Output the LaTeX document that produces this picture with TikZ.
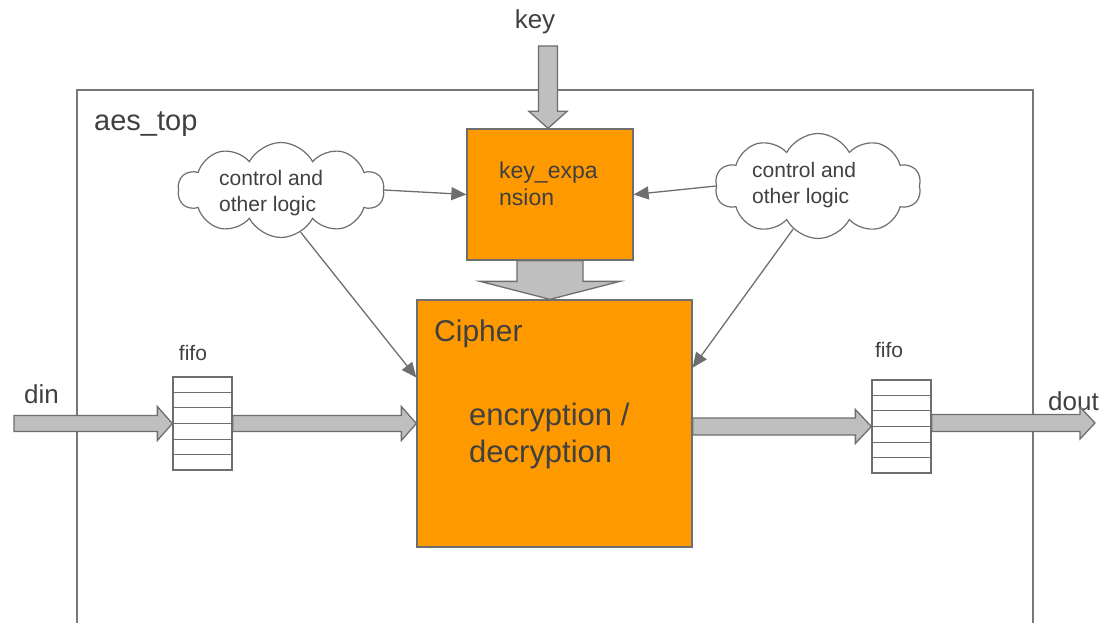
\documentclass[tikz,border=0pt]{standalone}
\usepackage{fontspec}
\setmainfont{Liberation Sans}
\usetikzlibrary{shapes.symbols,calc,arrows.meta}

\definecolor{blockorange}{HTML}{FF9900}
\definecolor{edgegray}{HTML}{6E6E6E}
\definecolor{arrowfill}{HTML}{BFBFBF}
\definecolor{ink}{HTML}{404040}
\definecolor{framegray}{HTML}{787878}

% horizontal block arrow: start, tip, half shaft, half head, head length
\newcommand\blockH[5]{%
  \draw[bigarrow] ($(#1)+(0,-#3)$) -- ($(#2)+(-#5,-#3)$) -- ($(#2)+(-#5,-#4)$)
    -- (#2) -- ($(#2)+(-#5,#4)$) -- ($(#2)+(-#5,#3)$) -- ($(#1)+(0,#3)$) -- cycle;}
% downward block arrow: start, tip, half shaft, half head, head length
\newcommand\blockV[5]{%
  \draw[bigarrow] ($(#1)+(-#3,0)$) -- ($(#2)+(-#3,-#5)$) -- ($(#2)+(-#4,-#5)$)
    -- (#2) -- ($(#2)+(#4,-#5)$) -- ($(#2)+(#3,-#5)$) -- ($(#1)+(#3,0)$) -- cycle;}

\tikzset{
  bigarrow/.style={fill=arrowfill, draw=edgegray, line width=1.3pt, line join=miter},
  module/.style={rectangle, fill=blockorange, draw=edgegray, line width=1.3pt, inner sep=0pt},
  fifobox/.style={rectangle, draw=edgegray, line width=1.3pt, fill=white,
    minimum width=59pt, minimum height=93pt, inner sep=0pt},
  logic/.style={cloud, cloud puffs=10, cloud puff arc=125, aspect=2.1, draw=edgegray,
    line width=1.2pt, fill=white, inner sep=0pt},
  logictxt/.style={anchor=west, align=left, text=ink, inner sep=0pt,
    font=\fontsize{21}{26}\selectfont},
  lbl/.style={text=ink, inner sep=0pt, font=\fontsize{26}{31}\selectfont},
  small/.style={text=ink, inner sep=0pt, font=\fontsize{21}{26}\selectfont},
  big/.style={text=ink, inner sep=0pt, font=\fontsize{30}{37}\selectfont, align=left},
  ctrl/.style={draw=edgegray, line width=1.3pt, -{Triangle[length=15pt,width=13pt]}},
}

\begin{document}
\begin{tikzpicture}[x=1pt,y=-1pt]
\useasboundingbox (0,0) rectangle (1106,623);

% enclosing top-level module
\draw[framegray, line width=1.2pt] (77,623) -- (77,90) -- (1033,90) -- (1033,623);
\node[anchor=west, text=ink, inner sep=0pt, font=\fontsize{29}{34}\selectfont] (top) at (94,124) {aes\_top};

% main blocks
\node[module, minimum width=166pt, minimum height=131pt] (keyexp) at (550,194.5) {};
\node[big, anchor=north west, font=\fontsize{23}{27}\selectfont] (keytxt) at (499,162) {key\_expa\\nsion};
\node[module, minimum width=275pt, minimum height=247pt] (cipher) at (554.5,423.5) {};
\node[big, anchor=west] (ciphtxt) at (434,334) {Cipher};
\node[big, anchor=west, font=\fontsize{31}{37}\selectfont] (modetxt) at (469,436) {encryption /\\decryption};

% fifos
\node[fifobox] (fifoL) at (202.5,423.5) {};
\node[fifobox] (fifoR) at (901.5,426.5) {};
\foreach \f in {fifoL,fifoR}{
  \foreach \k in {1,...,5}{
    \draw[edgegray, line width=1.1pt]
      ($(\f.north west)!\k/6!(\f.south west)$) -- ($(\f.north east)!\k/6!(\f.south east)$);
  }
}
\node[small] (fifoLtxt) at (193,353) {fifo};
\node[small] (fifoRtxt) at (889,350) {fifo};

% ports
\node[lbl] (keylbl) at (535,22) {key};
\node[lbl, anchor=west] (dinlbl) at (24,394) {din};
\node[lbl, anchor=west] (doutlbl) at (1048,401) {dout};
\coordinate (keyin) at (548,46);
\coordinate (dinin) at (14,423.5);
\coordinate (doutend) at (1095,423);

% data and key paths
\blockV{keyin}{keyexp.north -| keyin}{9.5}{19}{17}
\blockV{keyexp.south}{keyexp.south |- cipher.north}{33}{70}{18}
\blockH{dinin}{fifoL.west}{8}{17}{15}
\blockH{fifoL.east}{cipher.west}{8}{17}{15}
\blockH{cipher.east |- fifoR.west}{fifoR.west}{8.5}{17}{16}
\blockH{fifoR.east |- doutend}{doutend}{8.5}{16}{15}

% control logic clouds
\node[logic, minimum width=206pt, minimum height=95pt] (cloudL) at (281,190) {};
\node[logictxt] (cloudLtxt) at (219,193) {control and\\other logic};
\node[logic, minimum width=206pt, minimum height=105pt] (cloudR) at (818,186) {};
\node[logictxt] (cloudRtxt) at (752,185) {control and\\other logic};

\coordinate (cipL) at ($(cipher.north west)!0.315!(cipher.south west)$);
\coordinate (cipR) at ($(cipher.north east)!0.275!(cipher.south east)$);
\draw[ctrl] (cloudL.east) -- (keyexp.west);
\draw[ctrl] (cloudR.west) -- (keyexp.east);
\draw[ctrl] (cloudL.-65) -- (cipL);
\draw[ctrl] (cloudR.-120) -- (cipR);
\end{tikzpicture}
\end{document}
